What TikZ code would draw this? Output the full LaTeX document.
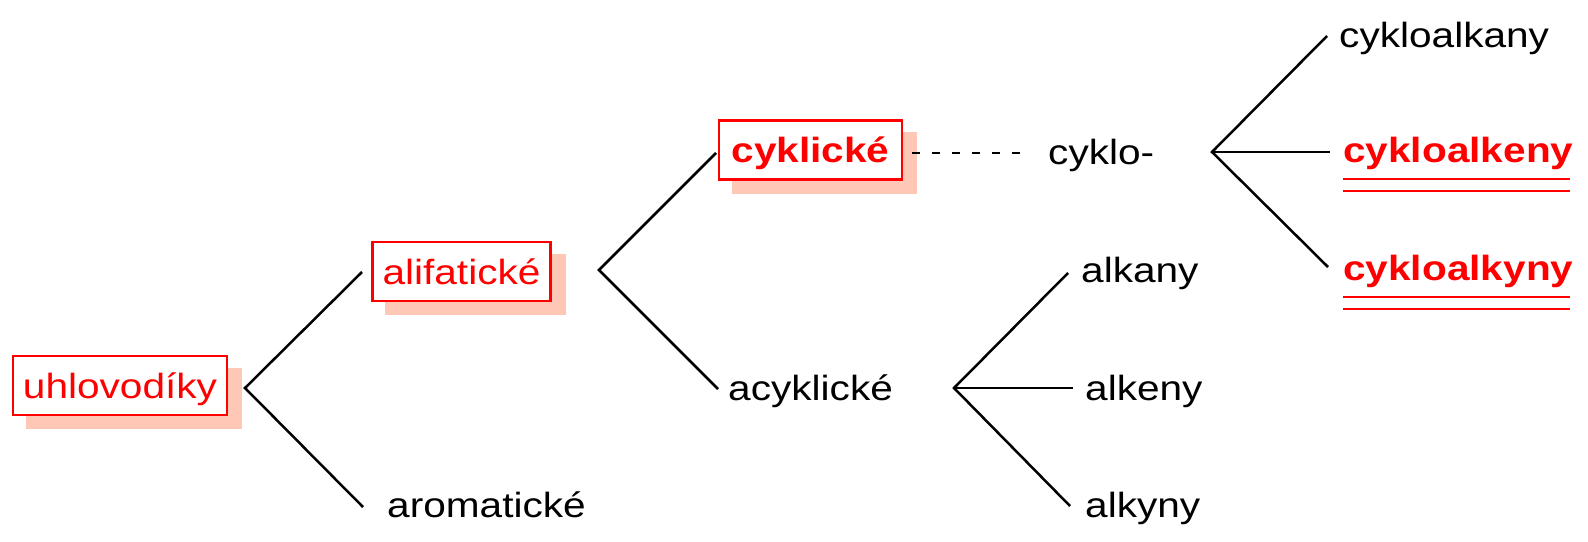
\documentclass[tikz,border=0pt]{standalone}
\usepackage{fontspec}
\setmainfont[FakeStretch=1.16]{Liberation Sans}
\usetikzlibrary{backgrounds}
\definecolor{shadowc}{RGB}{255,200,182}
\definecolor{pured}{RGB}{255,0,0}
\tikzset{
  every node/.style={font=\fontsize{35}{42}\selectfont},
  box/.style={draw=pured, line width=2.5pt, fill=white, text=pured, inner xsep=10pt, inner ysep=9pt, text height=33pt, text depth=8pt},
  boldbox/.style={box, font=\fontsize{35}{42}\selectfont\bfseries},
  lbl/.style={anchor=base west, inner sep=0pt},
  redb/.style={lbl, text=pured, font=\fontsize{35}{42}\selectfont\bfseries},
  link/.style={line width=2.5pt, black},
  uline/.style={line width=2.8pt, pured},
  shadowbox/.style={fill=shadowc}
}
\begin{document}
\begin{tikzpicture}[x=1pt, y=-1pt]
\useasboundingbox (0,0) rectangle (1588,541);
% boxed nodes
\node[box, minimum width=214pt] (uhl) at (120,385.5) {uhlovodíky};
\node[box, minimum width=177pt] (alif) at (461.5,271.5) {alifatické};
\node[boldbox, minimum width=183pt] (cyk) at (810.5,150) {cyklické};
% plain labels
\node[lbl] (arom) at (387,517) {aromatické};
\node[lbl] (acyk) at (728,400) {acyklické};
\node[lbl] (cyklo) at (1048,164) {cyklo-};
\node[lbl] (alkany) at (1081,282) {alkany};
\node[lbl] (alkeny) at (1085,400) {alkeny};
\node[lbl] (alkyny) at (1085,517) {alkyny};
\node[lbl] (cka) at (1339,47) {cykloalkany};
\node[redb] (cke) at (1343,162) {cykloalkeny};
\node[redb] (cky) at (1343,280) {cykloalkyny};
% shadows
\begin{scope}[on background layer]
\foreach \n in {uhl,alif,cyk}{
  \fill[shadowbox] ([shift={(14,13)}]\n.north west) rectangle ([shift={(14,13)}]\n.south east);
}
\end{scope}
% fork coordinates
\coordinate (f1) at (245,388);
\coordinate (e1a) at (362,272);
\coordinate (e1b) at (363,507);
\coordinate (f2) at (599,270);
\coordinate (e2a) at (716,153);
\coordinate (e2b) at (718,389);
\coordinate (f3) at (954,388);
\coordinate (e3a) at (1068,273);
\coordinate (e3b) at (1073,388);
\coordinate (e3c) at (1070,506);
\coordinate (f4) at (1212,152);
\coordinate (e4a) at (1327,36);
\coordinate (e4b) at (1330,152);
\coordinate (e4c) at (1328,267);
\coordinate (d1) at (912,153);
\coordinate (d2) at (1022,153);
% connectors
\draw[link] (e1a) -- (f1) -- (e1b);
\draw[link] (e2a) -- (f2) -- (e2b);
\draw[link] (e3a) -- (f3) -- (e3c);
\draw[link] (f3) -- (e3b);
\draw[link] (e4a) -- (f4) -- (e4c);
\draw[link] (f4) -- (e4b);
\draw[link, dash pattern=on 8pt off 12pt] (d1) -- (d2);
% double underlines
\foreach \n in {cke,cky}{
  \draw[uline] ([shift={(0,17)}]\n.base west) -- ([shift={(-4,17)}]\n.base east);
  \draw[uline] ([shift={(0,29)}]\n.base west) -- ([shift={(-4,29)}]\n.base east);
}
\end{tikzpicture}
\end{document}
